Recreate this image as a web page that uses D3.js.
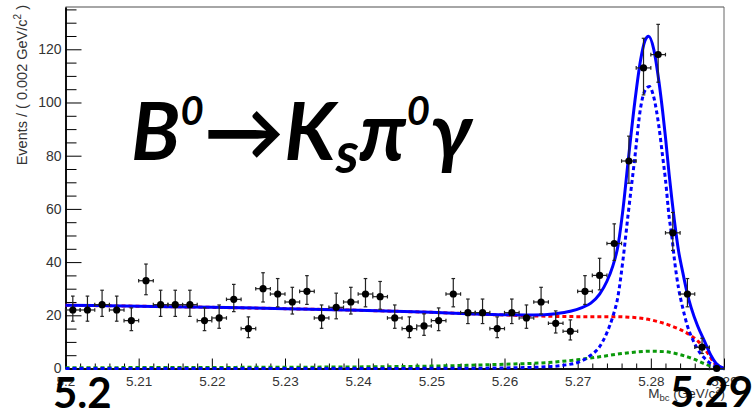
<!DOCTYPE html>
<html><head><meta charset="utf-8">
<script src="https://cdn.jsdelivr.net/npm/d3@7"></script>
<style>body{margin:0;background:#fff;} svg{display:block}</style>
</head><body><svg id="c" width="754" height="414"></svg>
<script>
// ---- data ----
const binCenters = [5.201,5.203,5.205,5.207,5.209,5.211,5.213,5.215,5.217,5.219,
  5.221,5.223,5.225,5.227,5.229,5.231,5.233,5.235,5.237,5.239,
  5.241,5.243,5.245,5.247,5.249,5.251,5.253,5.255,5.257,5.259,
  5.261,5.263,5.265,5.267,5.269,5.271,5.273,5.275,5.277,5.279,
  5.281,5.283,5.285,5.287,5.289];
const counts = [22,22,24,22,18,33,24,24,24,18,
  19,26,15,30,28,25,29,19,23,25,
  28,27,19,15,16,18,28,21,21,15,
  21,19,25,17,14,29,35,47,78,113,
  118,51,28,8,0];
const binHalfWidth = 0.001;

// total fit (solid blue)
const totalCurve = [[5.200,23.8],[5.210,23.4],[5.220,23.0],[5.230,22.5],[5.240,21.9],[5.250,21.1],[5.255,20.6],[5.260,20.2],[5.264,20.1],[5.267,20.6],[5.269,21.5],[5.2705,22.8],[5.2718,24.6],[5.2730,28.0],[5.2740,32.8],[5.2748,38.5],[5.2755,46],[5.2762,60],[5.2769,78],[5.2778,100],[5.2786,116],[5.2792,123.2],[5.2797,124.9],[5.2804,120],[5.2811,108],[5.2816,97],[5.2820,87],[5.2825,73],[5.2829,63],[5.2832,56],[5.2838,44],[5.2843,37],[5.2850,28],[5.2855,23],[5.2864,16],[5.2873,10.5],[5.2882,5],[5.2889,2],[5.2900,0]];
// signal (dashed blue)
const signalCurve = [[5.200,0],[5.240,0.02],[5.255,0.1],[5.262,0.3],[5.266,0.7],[5.268,1.2],[5.2705,2.8],[5.2718,5.0],[5.2730,8.2],[5.2740,13.5],[5.2748,19.5],[5.2755,27],[5.2762,41],[5.2769,58],[5.2778,79],[5.2786,98],[5.2792,104.5],[5.2798,106],[5.2804,102],[5.2811,91],[5.2816,80],[5.2820,71],[5.2825,57],[5.2829,49],[5.2832,41.5],[5.2838,30],[5.2843,23.5],[5.2850,16],[5.2857,11],[5.2864,7.2],[5.2873,4],[5.2880,2.2],[5.2889,0.7],[5.2900,0]];
// total background (dashed red)
const bkgCurve = [[5.200,23.8],[5.210,23.4],[5.220,23.0],[5.230,22.5],[5.240,21.9],[5.250,21.1],[5.255,20.6],[5.260,20.1],[5.265,19.7],[5.270,19.5],[5.2745,19.5],[5.277,19.3],[5.279,18.8],[5.281,17.6],[5.283,15.8],[5.285,13.2],[5.2865,10.1],[5.2878,5.7],[5.2889,1.3],[5.290,0]];
// peaking background (dashed green)
const peakBkgCurve = [[5.200,0.3],[5.220,0.4],[5.240,0.6],[5.250,0.9],[5.255,1.2],[5.260,1.6],[5.265,2.1],[5.270,3.3],[5.273,4.4],[5.276,5.6],[5.278,6.2],[5.280,6.5],[5.282,6.3],[5.284,5.2],[5.286,3.4],[5.2875,1.6],[5.289,0.3],[5.290,0]];

const xMajorTicks = [5.20,5.21,5.22,5.23,5.24,5.25,5.26,5.27,5.28,5.29];
const xTickLabels = ["5.2","5.21","5.22","5.23","5.24","5.25","5.26","5.27","5.28","5.29"];
const yMajorTicks = [0,20,40,60,80,100,120];
const yTickLabels = ["0","20","40","60","80","100","120"];

// ---- layout ----
const L = 65.5, R = 724, T = 7, B = 368.5;
const svg = d3.select("#c");
const x = d3.scaleLinear().domain([5.2, 5.29]).range([L, R]);
const y = d3.scaleLinear().domain([0, 135.9]).range([B, T]);

// frame
svg.append("line").attr("x1",L).attr("x2",R).attr("y1",T).attr("y2",T).attr("stroke","#888").attr("stroke-width",1.5);
svg.append("line").attr("x1",R).attr("x2",R).attr("y1",T).attr("y2",B).attr("stroke","#666").attr("stroke-width",1);

const labelColor = "#333";
// minor ticks
const xMinor = d3.range(5.202, 5.2899, 0.002).filter(v => Math.abs(Math.round(v*100) - v*100) > 1e-6);
const yMinor = d3.range(5, 136, 5).filter(v => v % 20 !== 0);

const gx = svg.append("g").attr("transform", `translate(0,${B})`);
gx.call(d3.axisBottom(x).tickValues(xMinor).tickSize(-5).tickSizeOuter(0).tickFormat(""));
gx.append("g").call(d3.axisBottom(x).tickValues(xMajorTicks).tickSize(-10).tickSizeOuter(0).tickPadding(7.5)
   .tickFormat((d,i) => xTickLabels[i]));
gx.selectAll("text").attr("fill", labelColor).style("font-family","'Liberation Sans',Arial,sans-serif").style("font-size","13.5px");
gx.selectAll("path.domain").attr("stroke","#000").attr("stroke-width",1.5);
gx.selectAll(".tick line").attr("stroke","#000");

const gy = svg.append("g").attr("transform", `translate(${L},0)`);
gy.call(d3.axisLeft(y).tickValues(yMinor).tickSize(-11).tickSizeOuter(0).tickFormat(""));
gy.append("g").call(d3.axisLeft(y).tickValues(yMajorTicks).tickSize(-16).tickSizeOuter(0).tickPadding(4)
   .tickFormat((d,i) => yTickLabels[i]));
gy.selectAll("text").attr("fill", labelColor).style("font-family","'Liberation Sans',Arial,sans-serif").style("font-size","14px");
gy.selectAll("path.domain").attr("stroke","#000").attr("stroke-width",1.5);
gy.selectAll(".tick line").attr("stroke","#000");

// curves
const line = d3.line().x(d => x(d[0])).y(d => y(d[1])).curve(d3.curveMonotoneX);
svg.append("path").datum(bkgCurve).attr("d", line).attr("fill","none").attr("stroke","#ff0000").attr("stroke-width",3).attr("stroke-dasharray","4,3");
svg.append("path").datum(peakBkgCurve).attr("d", line).attr("fill","none").attr("stroke","#0a990a").attr("stroke-width",3).attr("stroke-dasharray","4,3");
svg.append("path").datum(signalCurve).attr("d", line).attr("fill","none").attr("stroke","#0000ff").attr("stroke-width",3).attr("stroke-dasharray","4,3");
svg.append("path").datum(totalCurve).attr("d", line).attr("fill","none").attr("stroke","#0000ff").attr("stroke-width",3);

// data points with Poisson-like asymmetric error bars derived from counts
const gd = svg.append("g");
binCenters.forEach((c, i) => {
  const n = counts[i];
  const hi = n + 0.5 + Math.sqrt(n + 0.25);
  const lo = Math.max(0, n + 0.5 - Math.sqrt(n + 0.25));
  const cx = x(c), cy = y(n);
  const seg = (x1,y1,x2,y2) => gd.append("line").attr("x1",x1).attr("y1",y1).attr("x2",x2).attr("y2",y2)
      .attr("stroke","#222").attr("stroke-width",1.2);
  seg(cx, y(hi), cx, y(lo));
  seg(cx-1.8, y(hi), cx+1.8, y(hi));
  if (n > 0) seg(cx-1.8, y(lo), cx+1.8, y(lo));
  seg(x(c-binHalfWidth), cy, x(c+binHalfWidth), cy);
  seg(x(c-binHalfWidth), cy-1.8, x(c-binHalfWidth), cy+1.8);
  seg(x(c+binHalfWidth), cy-1.8, x(c+binHalfWidth), cy+1.8);
  gd.append("circle").attr("cx",cx).attr("cy",cy).attr("r",3.6).attr("fill","#000");
});

// axis titles
const yt = svg.append("text").attr("transform","translate(27,5) rotate(-90)")
  .attr("text-anchor","end").attr("fill",labelColor)
  .style("font-family","'Liberation Sans',Arial,sans-serif").style("font-size","14.5px");
yt.append("tspan").text("Events / ( 0.002 GeV/c");
yt.append("tspan").attr("dy",-6).style("font-size","10px").text("2");
yt.append("tspan").attr("dy",6).text(" )");

const xt = svg.append("text").attr("x",725).attr("y",398).attr("text-anchor","end").attr("fill",labelColor)
  .style("font-family","'Liberation Sans',Arial,sans-serif").style("font-size","13.5px");
xt.append("tspan").text("M");
xt.append("tspan").attr("dy",3).style("font-size","9.5px").text("bc");
xt.append("tspan").attr("dy",-3).text(" (GeV/c");
xt.append("tspan").attr("dy",-5).style("font-size","9.5px").text("2");
xt.append("tspan").attr("dy",5).text(")");

// big annotation texts
const bigFont = "Lato, 'Open Sans', sans-serif";
svg.append("text").attr("x",53).attr("y",408).attr("fill","#000").style("font-family",bigFont)
  .style("font-weight","bold").style("font-size","42px").text("5.2");
svg.append("text").attr("x",670).attr("y",407).attr("fill","#000").style("font-family",bigFont)
  .style("font-weight","bold").style("font-size","42px").text("5.29");

const title = svg.append("text").attr("x",131).attr("y",160).attr("fill","#000")
  .style("font-family",bigFont).style("font-weight","bold").style("font-style","italic")
  .style("font-size","80px").style("letter-spacing","0.3px");
title.append("tspan").text("B");
title.append("tspan").attr("dy",-35).style("font-size","40px").text("0");
title.append("tspan").attr("dy",35).text("→K");
title.append("tspan").attr("dy",13).style("font-size","57px").text("s");
title.append("tspan").attr("dy",-13).text("π");
title.append("tspan").attr("dy",-35).style("font-size","40px").text("0");
title.append("tspan").attr("dy",35).text("γ");
</script>
</body></html>
